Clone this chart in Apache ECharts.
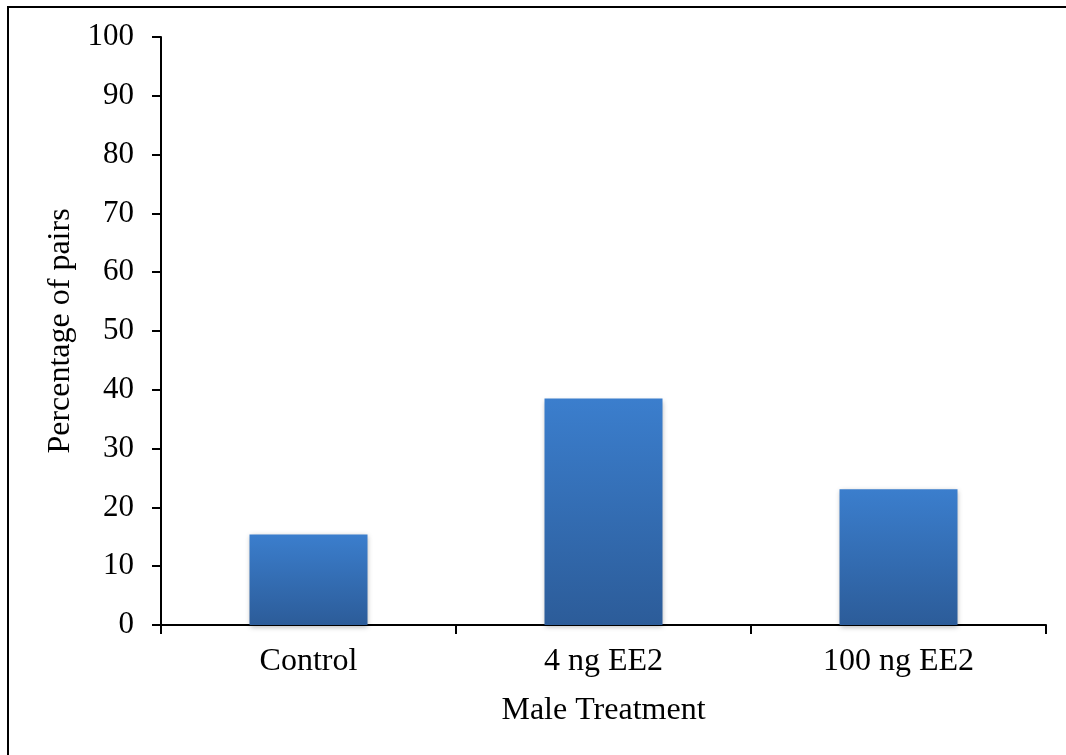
<!DOCTYPE html>
<html>
<head>
<meta charset="utf-8">
<script src="https://cdn.jsdelivr.net/npm/echarts@6/dist/echarts.min.js"></script>
<style>
  html, body { margin: 0; padding: 0; background: #fff; overflow: hidden; }
  #chart { width: 1066px; height: 755px; }
</style>
</head>
<body>
<div id="chart"></div>
<script>
// Share of pairs by male treatment group
const categories = ['Control', '4 ng EE2', '100 ng EE2'];
const pairPercent = [15.4, 38.5, 23.1];
const yTicks = { min: 0, max: 100, interval: 10 };

const serif = '"Liberation Serif", "Times New Roman", serif';
const chart = echarts.init(document.getElementById('chart'), null, { renderer: 'canvas' });

chart.setOption({
  backgroundColor: '#ffffff',
  animation: false,
  // outer frame: left and top edges (the rest runs off the canvas)
  graphic: [{
    type: 'polyline',
    shape: { points: [[8, 760], [8, 7], [1070, 7]] },
    style: { fill: 'none', stroke: '#000', lineWidth: 2 },
    silent: true
  }],
  grid: { left: 161, right: 20, top: 37, bottom: 130, containLabel: false },
  xAxis: {
    type: 'category',
    data: categories,
    name: 'Male Treatment',
    nameLocation: 'middle',
    nameGap: 70,
    nameTextStyle: { fontFamily: serif, fontSize: 32, color: '#000' },
    axisLine: { lineStyle: { color: '#000', width: 2 } },
    axisTick: { show: true, length: 9, lineStyle: { color: '#000', width: 2 }, alignWithLabel: false },
    axisLabel: { fontFamily: serif, fontSize: 32, color: '#000', margin: 21 }
  },
  yAxis: {
    type: 'value',
    min: yTicks.min,
    max: yTicks.max,
    interval: yTicks.interval,
    name: 'Percentage of pairs',
    nameLocation: 'middle',
    nameGap: 84,
    nameTextStyle: { fontFamily: serif, fontSize: 32, color: '#000' },
    axisLine: { show: true, lineStyle: { color: '#000', width: 2 } },
    axisTick: { show: true, length: 9, lineStyle: { color: '#000', width: 2 } },
    axisLabel: { fontFamily: serif, fontSize: 31, color: '#000', margin: 27 },
    splitLine: { show: false }
  },
  series: [{
    type: 'bar',
    data: pairPercent,
    barWidth: '40%',
    itemStyle: {
      color: new echarts.graphic.LinearGradient(0, 0, 0, 1, [
        { offset: 0, color: '#3b7ecd' },
        { offset: 1, color: '#2c5c99' }
      ]),
      shadowColor: 'rgba(0,0,0,0.3)',
      shadowBlur: 5,
      shadowOffsetY: 2
    }
  }]
});
</script>
</body>
</html>
